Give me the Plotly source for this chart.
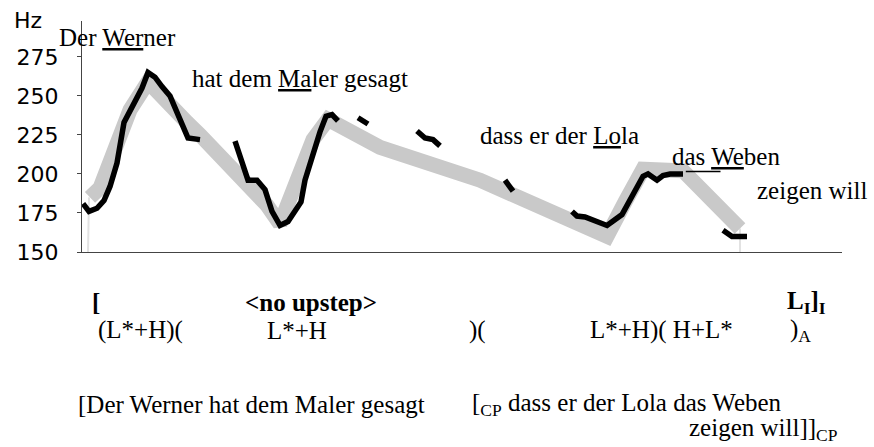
import plotly.graph_objects as go

# ---------------- data ----------------
# measured F0 contour (black), split into voiced stretches: time (arbitrary units), Hz
seg1_t = [1, 7, 15, 22, 28, 35, 42, 51, 60, 66, 73, 80, 88, 98, 106, 118]
seg1_hz = [181, 176, 178, 183, 192, 207, 233, 244, 255, 265, 262, 256, 250, 235, 223, 222]
seg2_t = [153, 160, 166, 175, 183, 190, 198, 206, 212, 219, 223, 228, 233, 238, 244, 250, 256]
seg2_hz = [221, 207, 196, 196, 190, 176, 167, 169.5, 175, 182, 196, 207, 216, 227, 237, 238, 234]
seg3_t = [276, 286]
seg3_hz = [236, 232]
seg4_t = [335, 343, 351, 358]
seg4_hz = [227.5, 223, 222, 218]
seg5_t = [423, 431]
seg5_hz = [196, 189]
seg6_t = [490, 495, 503, 525, 540, 550, 561, 566, 575, 581, 588, 601]
seg6_hz = [176, 173, 172.4, 167, 174, 186, 198.5, 200, 196, 199, 200, 200]
seg7_t = [641, 650, 665]
seg7_hz = [164, 160, 160]

# stylised contour (grey band)
gray_t = [8, 18, 33, 48, 66, 88, 105, 118, 151, 185, 198, 208, 216, 231, 246,
          298, 398, 478, 498, 525, 543, 561, 601, 625, 658]
gray_hz = [185, 191, 216, 241, 259, 243, 233, 225, 204, 180, 168, 185, 202, 222, 235,
           217, 196, 173, 167, 160, 182, 203, 202, 187, 165]
gray_start_t = [6, 7]
gray_start_hz = [150, 185]
gray_end_t = [658, 658]
gray_end_hz = [165, 150]

y_ticks = [150, 175, 200, 225, 250, 275]

# ---------------- figure ----------------
W, H = 874, 447
ML, MR, MT, MB = 82, 32, 21, 195
PW, PH = W - ML - MR, H - MT - MB

fig = go.Figure()
GRAY = "#c9c9c9"
fig.add_trace(go.Scatter(x=gray_start_t, y=gray_start_hz, mode="lines",
                         line=dict(color="#e2e2e2", width=2), hoverinfo="skip"))
fig.add_trace(go.Scatter(x=gray_end_t, y=gray_end_hz, mode="lines",
                         line=dict(color="#e2e2e2", width=2), hoverinfo="skip"))
fig.add_trace(go.Scatter(x=gray_t, y=gray_hz, mode="lines",
                         line=dict(color=GRAY, width=15), hoverinfo="skip"))

for t, hz in [(seg1_t, seg1_hz), (seg2_t, seg2_hz), (seg3_t, seg3_hz), (seg4_t, seg4_hz),
              (seg5_t, seg5_hz), (seg6_t, seg6_hz), (seg7_t, seg7_hz)]:
    fig.add_trace(go.Scatter(x=t, y=hz, mode="lines",
                             line=dict(color="black", width=5.5), hoverinfo="skip"))


def px(x):
    return (x - ML) / PW


def py(y):
    return (MT + PH - y) / PH


SERIF = "Liberation Serif, Times New Roman, serif"
SANS = "DejaVu Sans, Arial, sans-serif"
FS = 25

labels = [
    # (text, left px, centre y px, bold)
    ("Der <u>Wer</u>ner", 57, 38, False),
    ("hat dem <u>Ma</u>ler gesagt", 190, 78, False),
    ("dass er der <u>Lo</u>la", 478, 135, False),
    ("das <u>We</u>ben", 670, 156, False),
    ("zeigen will", 755, 190, False),
    ("[", 90, 302, True),
    ("&lt;no upstep&gt;", 243, 302, True),
    ("L<sub>I</sub>]<sub>I</sub>", 785, 302, True),
    ("(L*+H)(", 96, 330, False),
    ("L*+H", 265, 330, False),
    (")(", 467, 330, False),
    ("L*+H)( H+L*", 588, 330, False),
    (")<sub>A</sub>", 788, 330, False),
    ("[Der Werner hat dem Maler gesagt", 76, 404, False),
    ("[<sub>CP</sub> dass er der Lola das Weben", 470, 404, False),
    ("zeigen will]]<sub>CP</sub>", 687, 429, False),
]
annotations = []
for text, lx, cy, bold in labels:
    annotations.append(dict(
        text=("<b>%s</b>" % text) if bold else text,
        x=px(lx), y=py(cy), xref="paper", yref="paper",
        xanchor="left", yanchor="middle", showarrow=False,
        font=dict(family=SERIF, size=FS, color="black")))
annotations.append(dict(text="Hz", x=px(12), y=py(20), xref="paper", yref="paper",
                        xanchor="left", yanchor="middle", showarrow=False,
                        font=dict(family=SANS, size=22, color="black")))

# second stroke of the double underline under "We" (das Weben)
we_left = 670 + 0.632 * FS
we_right = we_left + 1.388 * FS
shapes = [dict(type="line", xref="paper", yref="paper",
               x0=px(we_left), x1=px(we_right), y0=py(171.5), y1=py(171.5),
               line=dict(color="black", width=1.3))]

fig.update_layout(
    width=W, height=H,
    margin=dict(l=ML, r=MR, t=MT, b=MB, pad=0),
    paper_bgcolor="white", plot_bgcolor="white",
    showlegend=False,
    annotations=annotations,
    shapes=shapes,
    xaxis=dict(range=[0, PW], showline=True, linecolor="#444", linewidth=1,
               showticklabels=False, ticks="", showgrid=False, zeroline=False,
               fixedrange=True),
    yaxis=dict(range=[150, 298], tickvals=y_ticks, ticks="outside", ticklen=4,
               tickcolor="#444", showline=True, linecolor="#444", linewidth=1,
               showgrid=False, zeroline=False, ticklabelstandoff=14,
               tickfont=dict(family=SANS, size=22, color="black"), fixedrange=True),
)

fig.write_html("out.html", config={"displayModeBar": False},
               post_script="document.body.style.margin='0';")
